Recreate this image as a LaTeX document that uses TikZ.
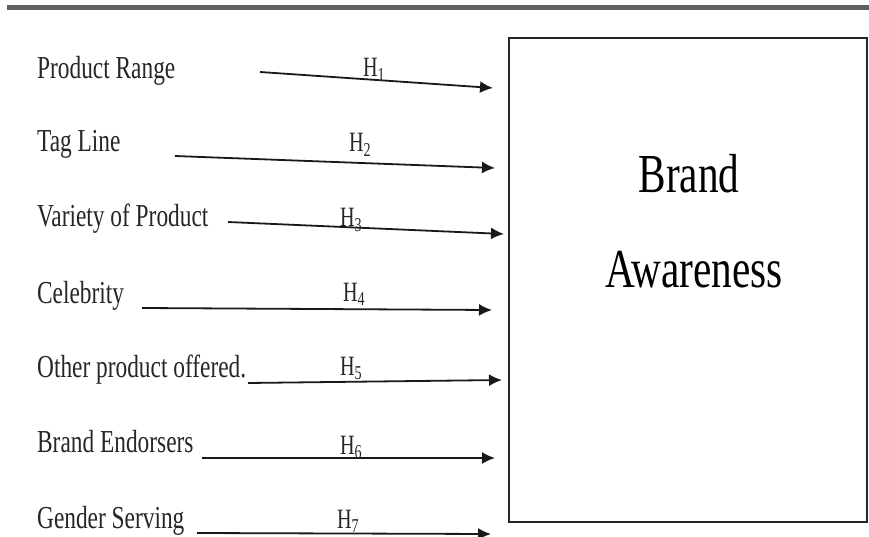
\documentclass[tikz,border=0pt]{standalone}
\usepackage{fontspec}
\setmainfont{Liberation Serif}
\usetikzlibrary{arrows.meta}

\begin{document}
\begin{tikzpicture}[x=1pt, y=-1pt, >={Latex[length=13pt,width=12pt]},
  factor/.style={anchor=base west, inner sep=0pt, xscale=0.73, text=black!85,
    font=\fontsize{32}{36}\selectfont},
  hyp/.style={anchor=base, inner sep=0pt, xscale=0.72, text=black!85,
    font=\fontsize{28}{32}\selectfont},
  link/.style={->, line width=1.8pt, black!90}]
  \useasboundingbox (0,0) rectangle (869,537);
  \draw[line width=5pt, gray!75!black] (7,8) -- (869,8);
  % dependent variable
  \node[draw, line width=1.3pt, gray!30!black, minimum width=358pt,
        minimum height=484pt, inner sep=0pt] (box) at (688,280) {};
  \node[anchor=base, xscale=0.75, font=\fontsize{55}{60}\selectfont] (brand) at (689,193) {Brand};
  \node[anchor=base, xscale=0.75, font=\fontsize{55}{60}\selectfont] (aware) at (694,287) {Awareness};
  % independent variables and hypotheses
  \foreach \i/\txt/\by/\sx/\sy/\ex/\ey/\hx/\hy in {
    1/Product Range/79/260/72/493/88/374/77,
    2/Tag Line/152/175/156/495/168/360/152,
    3/Variety of Product/226/228/222/504/234/351/227,
    4/Celebrity/303/142/308/492/310/354/301,
    5/Other product offered./377/248/383/502/380/351/375,
    6/Brand Endorsers/452/202/458/495/458/351/454,
    7/Gender Serving/528/197/533/491/534/348/528}{
    \node[factor] (f\i) at (37,\by) {\txt};
    \coordinate (s\i) at (\sx,\sy);
    \coordinate (e\i) at (\ex,\ey);
    \draw[link] (s\i) -- (e\i);
    \node[hyp] (h\i) at (\hx,\hy) {H\textsubscript{\i}};
  }
\end{tikzpicture}
\end{document}
